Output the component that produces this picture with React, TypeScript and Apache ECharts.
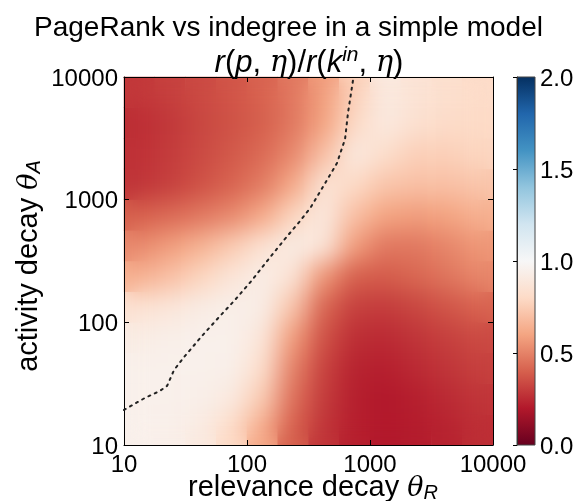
import React, { useEffect, useRef } from "react";
import * as echarts from "echarts";

// cell centres (log-spaced, quarter decade)
const thetaR = [13, 24, 42, 75, 133, 237, 422, 750, 1334, 2371, 4217, 7499];
const thetaA = [13, 24, 42, 75, 133, 237, 422, 750, 1334, 2371, 4217, 7499];

// ratio r(p,eta)/r(k_in,eta); rows from bottom (theta_A small) to top
const ratioRows = [
  [0.95, 0.94, 0.91, 0.80, 0.62, 0.40, 0.28, 0.22, 0.20, 0.21, 0.23, 0.26],
  [0.95, 0.95, 0.94, 0.90, 0.74, 0.45, 0.30, 0.22, 0.20, 0.22, 0.25, 0.28],
  [0.95, 0.95, 0.95, 0.94, 0.82, 0.50, 0.32, 0.23, 0.22, 0.25, 0.28, 0.31],
  [0.92, 0.94, 0.95, 0.95, 0.88, 0.58, 0.36, 0.26, 0.25, 0.28, 0.31, 0.34],
  [0.85, 0.88, 0.92, 0.94, 0.93, 0.72, 0.42, 0.31, 0.30, 0.33, 0.37, 0.41],
  [0.64, 0.70, 0.78, 0.87, 0.93, 0.86, 0.56, 0.40, 0.39, 0.42, 0.46, 0.51],
  [0.52, 0.58, 0.65, 0.74, 0.85, 0.92, 0.88, 0.58, 0.47, 0.47, 0.51, 0.56],
  [0.40, 0.43, 0.47, 0.52, 0.62, 0.78, 0.90, 0.70, 0.60, 0.58, 0.60, 0.64],
  [0.28, 0.31, 0.36, 0.41, 0.48, 0.62, 0.86, 0.80, 0.72, 0.70, 0.70, 0.72],
  [0.27, 0.30, 0.34, 0.38, 0.43, 0.52, 0.70, 0.90, 0.82, 0.76, 0.76, 0.78],
  [0.26, 0.29, 0.33, 0.36, 0.40, 0.47, 0.60, 0.80, 0.90, 0.84, 0.81, 0.80],
  [0.29, 0.31, 0.34, 0.37, 0.41, 0.47, 0.58, 0.76, 0.90, 0.86, 0.83, 0.81],
];

// dotted contour
const contourR = [10, 14.8, 19.6, 22.4, 25.5, 30.8, 42.3, 58.1, 79.8, 110, 148, 200, 270, 331, 423, 539, 627, 662, 728, 740];
const contourA = [19.3, 24.2, 27.6, 30.3, 40.8, 52.1, 75.9, 108, 152, 221, 322, 469, 670, 871, 1316, 1987, 3120, 5080, 9440, 10000];

const colorTicks = [0, 0.5, 1, 1.5, 2];

const RDBU = ["#67001f", "#b2182b", "#d6604d", "#f4a582", "#fddbc7", "#f7f7f7", "#d1e5f0", "#92c5de", "#4393c3", "#2166ac", "#053061"];

const FONT = "Liberation Sans";
const PLOT = { left: 124, top: 77, width: 369, height: 368 };

function heatOption(grid: any) {
  const heatData: number[][] = [];
  ratioRows.forEach((row, i) => row.forEach((v, j) => heatData.push([j, i, v])));
  return {
    animation: false,
    grid: { ...grid, outerBoundsMode: "none" },
    visualMap: { type: "continuous", show: false, min: 0, max: 2, seriesIndex: 0, inRange: { color: RDBU } },
    xAxis: { type: "category", data: thetaR, show: false },
    yAxis: { type: "category", data: thetaA, show: false },
    series: [
      {
        type: "heatmap",
        data: heatData,
        progressive: 0,
        itemStyle: { borderWidth: 0 },
        emphasis: { disabled: true },
        silent: true,
      },
    ],
  };
}

export default function App() {
  const baseRef = useRef<HTMLDivElement>(null);
  const blurRef = useRef<HTMLDivElement>(null);
  const topRef = useRef<HTMLDivElement>(null);
  useEffect(() => {
    if (!baseRef.current || !blurRef.current || !topRef.current) return;
    const base = echarts.init(baseRef.current, undefined, { renderer: "svg" });
    const blur = echarts.init(blurRef.current, undefined, { renderer: "svg" });
    const chart = echarts.init(topRef.current, undefined, { renderer: "svg" });

    base.setOption(heatOption({ ...PLOT }));
    blur.setOption(heatOption({ left: 0, top: 0, right: 0, bottom: 0 }));

    const contour = contourR.map((r, i) => [r, contourA[i]]);
    const logAxisCommon = {
      type: "log",
      logBase: 10,
      min: 10,
      max: 10000,
      gridIndex: 0,
      splitLine: { show: false },
      minorTick: { show: false },
      axisLine: { show: true, lineStyle: { color: "#000", width: 1 } },
      axisTick: { show: true, inside: true, length: 5, lineStyle: { color: "#000", width: 1 } },
    };
    const gradStops = RDBU.map((c, i) => ({ offset: 1 - i / (RDBU.length - 1), color: c })).reverse();
    const nameRich = {
      a: { fontFamily: FONT, fontSize: 29, lineHeight: 30, color: "#000" },
      t: { fontFamily: "DejaVu Serif", fontStyle: "italic", fontSize: 27, lineHeight: 30, color: "#000" },
      s: { fontFamily: FONT, fontStyle: "italic", fontSize: 20, lineHeight: 20, color: "#000", padding: [12, 0, 0, 0] },
    };
    const option: any = {
      animation: false,
      textStyle: { fontFamily: FONT },
      title: {
        text: "PageRank vs indegree in a simple model",
        left: "center",
        top: 7,
        textStyle: { fontFamily: FONT, fontSize: 28, fontWeight: "normal", color: "#000" },
      },
      grid: [
        { ...PLOT, outerBoundsMode: "none" },
        { left: 517, top: 77, width: 18, height: 368, outerBoundsMode: "none" },
      ],
      xAxis: [
        {
          ...logAxisCommon,
          position: "bottom",
          axisLabel: { fontSize: 24, color: "#000", margin: 6, formatter: (v: number) => String(Math.round(v)) },
          name: "{a|relevance decay }{t|θ}{s|R}",
          nameLocation: "middle",
          nameGap: 26,
          nameMoveOverlap: false,
          nameTextStyle: { rich: nameRich, padding: [0, 0, 0, 9] },
        },
        { ...logAxisCommon, position: "top", axisLabel: { show: false } },
        { type: "value", gridIndex: 1, show: false, min: 0, max: 1 },
      ],
      yAxis: [
        {
          ...logAxisCommon,
          position: "left",
          axisLabel: { fontSize: 24, color: "#000", margin: 6, formatter: (v: number) => String(Math.round(v)) },
          name: "{a|activity decay }{t|θ}{s|A}",
          nameLocation: "middle",
          nameGap: 82,
          nameRotate: 90,
          nameMoveOverlap: false,
          nameTextStyle: { rich: nameRich, padding: [0, 10, 0, 0] },
        },
        { ...logAxisCommon, position: "right", axisLabel: { show: false } },
        {
          type: "value",
          gridIndex: 1,
          min: 0,
          max: 2,
          interval: 0.5,
          position: "right",
          splitLine: { show: false },
          axisLine: { show: true, lineStyle: { color: "#333", width: 1 } },
          axisTick: { show: true, inside: true, length: 4, lineStyle: { color: "#000" } },
          axisLabel: { fontSize: 24, color: "#000", margin: 5, formatter: (v: number) => (colorTicks.includes(v) ? v.toFixed(1) : "") },
        },
      ],
      graphic: [
        {
          type: "rect",
          z: -10,
          shape: { x: 517, y: 77, width: 18, height: 368 },
          style: {
            fill: new echarts.graphic.LinearGradient(0, 0, 0, 1, gradStops),
            stroke: "#444",
            lineWidth: 1,
          },
        },
        {
          type: "text",
          x: 309,
          y: 61,
          style: {
            text: "{i|r}{n|(}{i|p}{n|, }{g|η}{n|)/}{i|r}{n|(}{i|k}{p|in}{n|, }{g|η}{n|)}",
            align: "center",
            verticalAlign: "middle",
            rich: {
              i: { fontFamily: FONT, fontStyle: "italic", fontSize: 31, fill: "#000" },
              n: { fontFamily: FONT, fontSize: 31, fill: "#000" },
              g: { fontFamily: "DejaVu Serif", fontStyle: "italic", fontSize: 29, fill: "#000" },
              p: { fontFamily: FONT, fontStyle: "italic", fontSize: 21, fill: "#000", padding: [0, 0, 16, 0] },
            },
          },
        },
      ],
      series: [
        {
          type: "line",
          xAxisIndex: 0,
          yAxisIndex: 0,
          data: contour,
          symbol: "none",
          silent: true,
          lineStyle: { color: "#222", width: 2, type: [2, 5], cap: "round" },
          z: 5,
        },
      ],
    };
    chart.setOption(option);
    return () => {
      base.dispose();
      blur.dispose();
      chart.dispose();
    };
  }, []);
  return (
    <div style={{ position: "fixed", left: 0, top: 0, width: 577, height: 501 }}>
      <div ref={baseRef} style={{ position: "absolute", left: 0, top: 0, width: 577, height: 501 }} />
      <div
        style={{
          position: "absolute",
          left: PLOT.left,
          top: PLOT.top,
          width: PLOT.width,
          height: PLOT.height,
          overflow: "hidden",
        }}
      >
        <div ref={blurRef} style={{ width: PLOT.width, height: PLOT.height, filter: "blur(12px)" }} />
      </div>
      <div ref={topRef} style={{ position: "absolute", left: 0, top: 0, width: 577, height: 501 }} />
    </div>
  );
}
